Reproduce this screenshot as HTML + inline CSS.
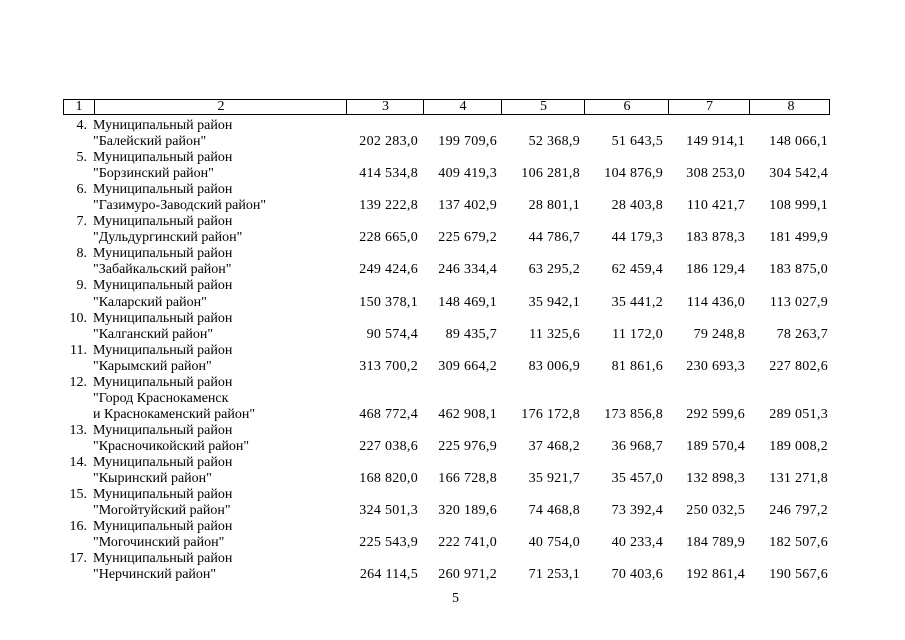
<!DOCTYPE html>
<html><head><meta charset="utf-8"><style>
body{margin:0;width:905px;height:640px;background:#fff;overflow:hidden;font-family:"Liberation Serif",serif;font-size:14px;color:#000}
.hdr{position:absolute;top:99px;left:63px;width:767px;height:16px;border:1px solid #000;box-sizing:border-box}
.hdr div{position:absolute;top:0;height:14px;border-left:1px solid #000;text-align:center;line-height:14px}
table{position:absolute;top:118px;left:63px;border-collapse:collapse}
td{padding:0;height:16.05px;line-height:16.05px;white-space:nowrap;vertical-align:bottom}
td.n{width:24px;text-align:right;padding-right:6px}
td.t{width:252px}
td.c3{width:73px;text-align:right;padding-right:4px;letter-spacing:0.3px}
td.c4{width:75px;text-align:right;padding-right:4px;letter-spacing:0.3px}
td.c5{width:79px;text-align:right;padding-right:4px;letter-spacing:0.3px}
td.c6{width:79px;text-align:right;padding-right:4px;letter-spacing:0.3px}
td.c7{width:78px;text-align:right;padding-right:4px;letter-spacing:0.3px}
td.c8{width:79px;text-align:right;padding-right:3px;letter-spacing:0.3px}
</style></head><body>
<div class="hdr">
<div style="left:0;width:30px;border-left:none">1</div>
<div style="left:30px;width:252px">2</div>
<div style="left:282px;width:77px">3</div>
<div style="left:359px;width:78px">4</div>
<div style="left:437px;width:83px">5</div>
<div style="left:520px;width:84px">6</div>
<div style="left:604px;width:81px">7</div>
<div style="left:685px;width:82px">8</div>
</div>
<table>
<tr><td class="n">4.</td><td class="t">Муниципальный район</td><td class="c3"></td><td class="c4"></td><td class="c5"></td><td class="c6"></td><td class="c7"></td><td class="c8"></td></tr>
<tr><td class="n"></td><td class="t">"Балейский район"</td><td class="c3">202 283,0</td><td class="c4">199 709,6</td><td class="c5">52 368,9</td><td class="c6">51 643,5</td><td class="c7">149 914,1</td><td class="c8">148 066,1</td></tr>
<tr><td class="n">5.</td><td class="t">Муниципальный район</td><td colspan="6"></td></tr>
<tr><td class="n"></td><td class="t">"Борзинский район"</td><td class="c3">414 534,8</td><td class="c4">409 419,3</td><td class="c5">106 281,8</td><td class="c6">104 876,9</td><td class="c7">308 253,0</td><td class="c8">304 542,4</td></tr>
<tr><td class="n">6.</td><td class="t">Муниципальный район</td><td colspan="6"></td></tr>
<tr><td class="n"></td><td class="t">"Газимуро-Заводский район"</td><td class="c3">139 222,8</td><td class="c4">137 402,9</td><td class="c5">28 801,1</td><td class="c6">28 403,8</td><td class="c7">110 421,7</td><td class="c8">108 999,1</td></tr>
<tr><td class="n">7.</td><td class="t">Муниципальный район</td><td colspan="6"></td></tr>
<tr><td class="n"></td><td class="t">"Дульдургинский район"</td><td class="c3">228 665,0</td><td class="c4">225 679,2</td><td class="c5">44 786,7</td><td class="c6">44 179,3</td><td class="c7">183 878,3</td><td class="c8">181 499,9</td></tr>
<tr><td class="n">8.</td><td class="t">Муниципальный район</td><td colspan="6"></td></tr>
<tr><td class="n"></td><td class="t">"Забайкальский район"</td><td class="c3">249 424,6</td><td class="c4">246 334,4</td><td class="c5">63 295,2</td><td class="c6">62 459,4</td><td class="c7">186 129,4</td><td class="c8">183 875,0</td></tr>
<tr><td class="n">9.</td><td class="t">Муниципальный район</td><td colspan="6"></td></tr>
<tr><td class="n"></td><td class="t">"Каларский район"</td><td class="c3">150 378,1</td><td class="c4">148 469,1</td><td class="c5">35 942,1</td><td class="c6">35 441,2</td><td class="c7">114 436,0</td><td class="c8">113 027,9</td></tr>
<tr><td class="n">10.</td><td class="t">Муниципальный район</td><td colspan="6"></td></tr>
<tr><td class="n"></td><td class="t">"Калганский район"</td><td class="c3">90 574,4</td><td class="c4">89 435,7</td><td class="c5">11 325,6</td><td class="c6">11 172,0</td><td class="c7">79 248,8</td><td class="c8">78 263,7</td></tr>
<tr><td class="n">11.</td><td class="t">Муниципальный район</td><td colspan="6"></td></tr>
<tr><td class="n"></td><td class="t">"Карымский район"</td><td class="c3">313 700,2</td><td class="c4">309 664,2</td><td class="c5">83 006,9</td><td class="c6">81 861,6</td><td class="c7">230 693,3</td><td class="c8">227 802,6</td></tr>
<tr><td class="n">12.</td><td class="t">Муниципальный район</td><td colspan="6"></td></tr>
<tr><td class="n"></td><td class="t">"Город Краснокаменск</td><td colspan="6"></td></tr>
<tr><td class="n"></td><td class="t">и Краснокаменский район"</td><td class="c3">468 772,4</td><td class="c4">462 908,1</td><td class="c5">176 172,8</td><td class="c6">173 856,8</td><td class="c7">292 599,6</td><td class="c8">289 051,3</td></tr>
<tr><td class="n">13.</td><td class="t">Муниципальный район</td><td colspan="6"></td></tr>
<tr><td class="n"></td><td class="t">"Красночикойский район"</td><td class="c3">227 038,6</td><td class="c4">225 976,9</td><td class="c5">37 468,2</td><td class="c6">36 968,7</td><td class="c7">189 570,4</td><td class="c8">189 008,2</td></tr>
<tr><td class="n">14.</td><td class="t">Муниципальный район</td><td colspan="6"></td></tr>
<tr><td class="n"></td><td class="t">"Кыринский район"</td><td class="c3">168 820,0</td><td class="c4">166 728,8</td><td class="c5">35 921,7</td><td class="c6">35 457,0</td><td class="c7">132 898,3</td><td class="c8">131 271,8</td></tr>
<tr><td class="n">15.</td><td class="t">Муниципальный район</td><td colspan="6"></td></tr>
<tr><td class="n"></td><td class="t">"Могойтуйский район"</td><td class="c3">324 501,3</td><td class="c4">320 189,6</td><td class="c5">74 468,8</td><td class="c6">73 392,4</td><td class="c7">250 032,5</td><td class="c8">246 797,2</td></tr>
<tr><td class="n">16.</td><td class="t">Муниципальный район</td><td colspan="6"></td></tr>
<tr><td class="n"></td><td class="t">"Могочинский район"</td><td class="c3">225 543,9</td><td class="c4">222 741,0</td><td class="c5">40 754,0</td><td class="c6">40 233,4</td><td class="c7">184 789,9</td><td class="c8">182 507,6</td></tr>
<tr><td class="n">17.</td><td class="t">Муниципальный район</td><td colspan="6"></td></tr>
<tr><td class="n"></td><td class="t">"Нерчинский район"</td><td class="c3">264 114,5</td><td class="c4">260 971,2</td><td class="c5">71 253,1</td><td class="c6">70 403,6</td><td class="c7">192 861,4</td><td class="c8">190 567,6</td></tr>
</table>
<div style="position:absolute;top:591px;left:452px">5</div>
</body></html>
